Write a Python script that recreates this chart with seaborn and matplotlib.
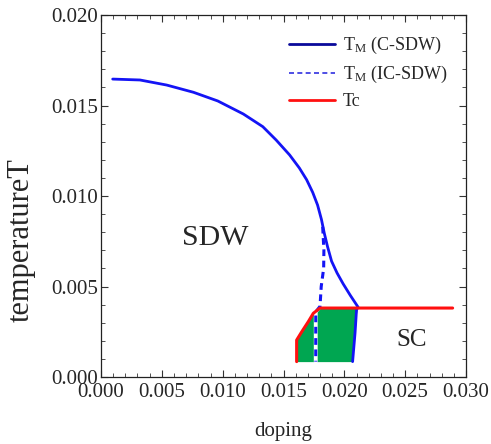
import matplotlib
matplotlib.use("Agg")
import matplotlib.pyplot as plt
import seaborn as sns
from matplotlib.lines import Line2D
from matplotlib.ticker import MultipleLocator

# C-SDW transition line (solid)
csdw_x = [0.00096, 0.0032, 0.0054, 0.0076, 0.0096, 0.0117, 0.0133, 0.0144, 0.0155,
          0.0163, 0.0169, 0.0174, 0.0178, 0.01812, 0.01835, 0.01862, 0.01895,
          0.0194, 0.0199, 0.0205, 0.02112, 0.0210, 0.02088, 0.02068]
csdw_y = [0.01646, 0.01641, 0.01613, 0.01573, 0.01525, 0.01453, 0.01383, 0.01309, 0.01227,
          0.01155, 0.01090, 0.01020, 0.00950, 0.00870, 0.00795, 0.00720, 0.00640,
          0.00575, 0.00515, 0.00450, 0.00387, 0.0037, 0.00243, 0.00085]
# IC-SDW transition line (dashed)
icsdw_x = [0.01822, 0.01832, 0.0183, 0.0181, 0.0180, 0.01765, 0.01765]
icsdw_y = [0.0083, 0.0070, 0.0060, 0.0050, 0.0039, 0.0036, 0.00085]
# Tc line
tc_x = [0.01608, 0.01608, 0.0165, 0.01704, 0.01745, 0.0180, 0.0289]
tc_y = [0.00085, 0.00204, 0.0025, 0.00306, 0.00352, 0.00381, 0.00381]
# coexistence region (green) boundaries
fill_y = [0.00085, 0.00204, 0.0025, 0.00306, 0.00352, 0.00381]
fill_left = [0.01608, 0.01608, 0.0165, 0.01704, 0.01745, 0.0180]
fill_right = [0.02068, 0.02080, 0.02088, 0.02096, 0.02100, 0.02108]

sns.set_theme(style="ticks")
plt.rcParams['font.family'] = ['Liberation Serif', 'DejaVu Serif']
plt.rcParams['mathtext.fontset'] = 'custom'
plt.rcParams['mathtext.rm'] = 'Liberation Serif'
plt.rcParams['mathtext.it'] = 'Liberation Serif:italic'

fig = plt.figure(figsize=(4.91, 4.44), dpi=100)
ax = fig.add_axes([0.2057, 0.1509, 0.7434, 0.8153])

blue = '#1414f5'
ax.fill_betweenx(fill_y, fill_left, fill_right, color='#00a651', lw=0, zorder=1)

sns.lineplot(x=csdw_x, y=csdw_y, sort=False, estimator=None, ax=ax, color=blue, lw=2, zorder=3)
sns.lineplot(x=icsdw_x, y=icsdw_y, sort=False, estimator=None, ax=ax, color='white', lw=2.8, zorder=2)
sns.lineplot(x=icsdw_x, y=icsdw_y, sort=False, estimator=None, ax=ax, color=blue, lw=2.2, zorder=3,
             linestyle=(0, (2.2, 1.5)))
sns.lineplot(x=tc_x, y=tc_y, sort=False, estimator=None, ax=ax, color='#ff1010', lw=2.2, zorder=4)

ax.set_xlim(0, 0.030)
ax.set_ylim(0, 0.020)
ax.xaxis.set_major_locator(MultipleLocator(0.005))
ax.xaxis.set_minor_locator(MultipleLocator(0.001))
ax.yaxis.set_major_locator(MultipleLocator(0.005))
ax.yaxis.set_minor_locator(MultipleLocator(0.001))
ax.xaxis.set_major_formatter(plt.FuncFormatter(lambda v, p: f"{v:.3f}"))
ax.yaxis.set_major_formatter(plt.FuncFormatter(lambda v, p: f"{v:.3f}"))
ax.tick_params(which='both', direction='in', top=True, right=True, labelsize=15,
               color='#333333')
ax.tick_params(axis='x', pad=4)
ax.tick_params(axis='y', pad=2)
ax.tick_params(which='major', length=5, width=0.8)
ax.tick_params(which='minor', length=3, width=0.6)
for s in ax.spines.values():
    s.set_linewidth(0.9)
    s.set_color('#222222')

ax.set_xlabel('doping', fontsize=15, labelpad=15)
ax.set_ylabel('temperatureT', fontsize=22)
ax.yaxis.set_label_coords(-0.178, 0.378)

ax.text(0.0094, 0.00768, 'SDW', fontsize=21.5, ha='center', va='center')
ax.text(0.02556, 0.00204, 'SC', fontsize=18, ha='center', va='center')

handles = [Line2D([], [], color='#0a0a9a', lw=2),
           Line2D([], [], color='#3030e0', lw=1.2, linestyle=(0, (3, 2))),
           Line2D([], [], color='#ff1010', lw=2)]
labels = [r'T$_\mathrm{M}$ (C-SDW)', r'T$_\mathrm{M}$ (IC-SDW)', 'Tc']
ax.legend(handles, labels, loc='upper right', bbox_to_anchor=(0.969, 0.965), frameon=False,
          fontsize=13, handlelength=2.55, labelspacing=0.45, borderaxespad=0.0,
          handletextpad=0.45)

fig.savefig('out.png', dpi=100)
